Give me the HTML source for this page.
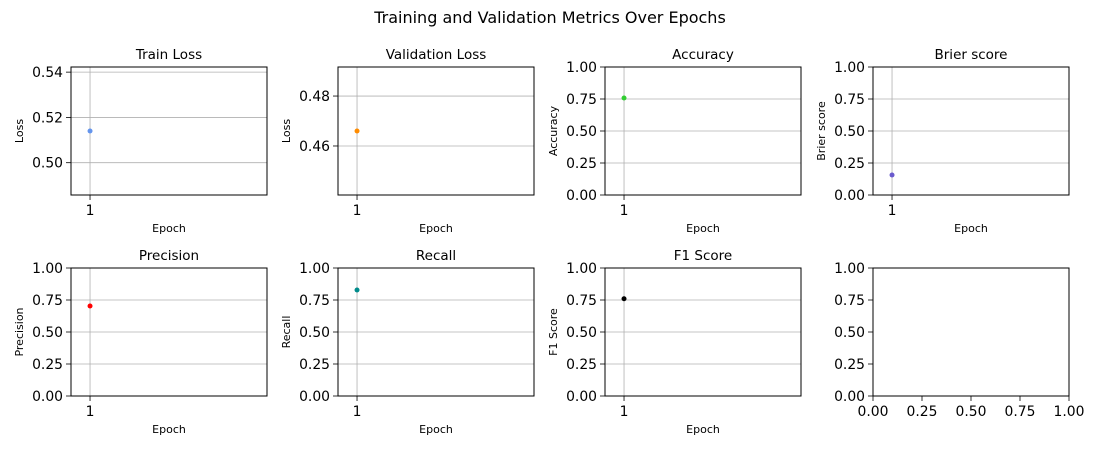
<!DOCTYPE html>
<html><head><meta charset="utf-8"><style>
html,body{margin:0;padding:0;background:#fff;}
svg{display:block;font-family:"DejaVu Sans","Liberation Sans",sans-serif;}
</style></head><body>
<svg id="fig" width="1100" height="450" viewBox="0 0 1100 450">
<text x="550" y="23" text-anchor="middle" font-size="16" fill="#000">Training and Validation Metrics Over Epochs</text>
</svg>
<script>
const panelTitles = ["Train Loss","Validation Loss","Accuracy","Brier score","Precision","Recall","F1 Score"];
const panelYLabels = ["Loss","Loss","Accuracy","Brier score","Precision","Recall","F1 Score"];
const epochs = [1];
const trainLoss = [0.514];
const valLoss = [0.466];
const accuracy = [0.758];
const brier = [0.156];
const precision = [0.703];
const recall = [0.828];
const f1 = [0.76];
const lossTicksTrain = [0.50,0.52,0.54];
const lossTicksVal = [0.46,0.48];
const unitTicks = [0,0.25,0.5,0.75,1.0];
const emptyXTicks = [0,0.25,0.5,0.75,1.0];

const svg = document.getElementById('fig');
const NS = 'http://www.w3.org/2000/svg';
function mk(tag, attrs, parent){const e=document.createElementNS(NS,tag);for(const k in attrs)e.setAttribute(k,attrs[k]);(parent||svg).appendChild(e);return e;}

const colsX=[71,338,605,873], rowsY=[67,268], W=196, H=128;
const series=[trainLoss,valLoss,accuracy,brier,precision,recall,f1];
const colors=["#6495ed","#ff8c00","#32cd32","#6a5acd","#ff0000","#008b8b","#000000"];
const yTicksArr=[lossTicksTrain,lossTicksVal,unitTicks,unitTicks,unitTicks,unitTicks,unitTicks];
const xMin=0.8, xMax=2.86;

function autoLim(vals){const v=vals[0];const lo=v*0.95,hi=v*1.05,m=(hi-lo)*0.05;return [lo-m,hi+m];}

for(let i=0;i<8;i++){
  const x0=colsX[i%4], y0=rowsY[Math.floor(i/4)];
  const g=mk('g',{});
  
  
  let yLim, ticks, xs, xl;
  if(i<7){
    yLim = i<2 ? autoLim(series[i]) : [0,1];
    ticks=yTicksArr[i];
  } else { yLim=[0,1]; ticks=unitTicks; }
  const ys=v=>y0+H-(v-yLim[0])/(yLim[1]-yLim[0])*H;
  if(i<7){ xs=v=>x0+(v-xMin)/(xMax-xMin)*W; } else { xs=v=>x0+v*W; }
  // grid
  if(i<7){
    ticks.forEach(t=>{const l=mk('line',{x1:x0,x2:x0+W,y1:ys(t),y2:ys(t),stroke:'#b0b0b0','stroke-width':0.8},g);});
    epochs.forEach(e=>{const l=mk('line',{x1:xs(e),x2:xs(e),y1:y0,y2:y0+H,stroke:'#b0b0b0','stroke-width':0.8},g);});
  }
  // y ticks
  ticks.forEach(t=>{
    const yy=ys(t);
    mk('line',{x1:x0-5,x2:x0,y1:yy,y2:yy,stroke:'#000','stroke-width':0.8},g);
    const tx=mk('text',{x:x0-8,y:yy+5,'text-anchor':'end','font-size':13.9,fill:'#000'},g);
    tx.textContent=t.toFixed(2);
    
    
  });
  // x ticks
  const xt = i<7 ? epochs : emptyXTicks;
  xt.forEach(t=>{
    const xx=xs(t);
    mk('line',{x1:xx,x2:xx,y1:y0+H,y2:y0+H+5,stroke:'#000','stroke-width':0.8},g);
    const tx=mk('text',{x:xx,y:y0+H+20,'text-anchor':'middle','font-size':13.9,fill:'#000'},g);
    tx.textContent= i<7 ? String(t) : t.toFixed(2);
    
    
  });
  // points
  if(i<7){
    series[i].forEach((v,k)=>{
      const c=mk('circle',{cx:xs(epochs[k]),cy:ys(v),r:2.5,fill:colors[i]},g);
      
      
    });
    const t=mk('text',{x:x0+W/2,y:y0-8,'text-anchor':'middle','font-size':13.5,fill:'#000'},g);
    t.textContent=panelTitles[i];
    
    
    const xl2=mk('text',{x:x0+W/2,y:y0+H+37,'text-anchor':'middle','font-size':11,fill:'#000'},g);
    xl2.textContent='Epoch';
    
    
    const ylx=x0-48;
    const yl=mk('text',{x:ylx,y:y0+H/2,'text-anchor':'middle','font-size':11,fill:'#000',transform:`rotate(-90 ${ylx} ${y0+H/2})`},g);
    yl.textContent=panelYLabels[i];
    
    
  }
  const fr=mk('rect',{x:x0,y:y0,width:W,height:H,fill:'none',stroke:'#000','stroke-width':1},g);
  
  
}
</script>
</body></html>
